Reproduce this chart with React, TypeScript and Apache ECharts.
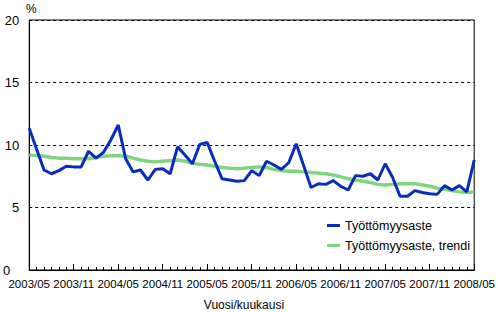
import React, { useEffect, useRef } from "react";
import * as echarts from "echarts";

const startYear = 2003;
const startMonth = 5;
const monthCount = 61;

const rate = [
  11.35, 9.65, 8.0, 7.7, 7.95, 8.3, 8.25, 8.25, 9.5, 8.95,
  9.4, 10.4, 11.6, 8.9, 7.85, 8.0, 7.2, 8.05, 8.1, 7.7,
  9.85, 9.2, 8.5, 10.05, 10.2, 8.7, 7.3, 7.2, 7.1, 7.15,
  7.95, 7.55, 8.7, 8.4, 8.05, 8.6, 10.1, 8.35, 6.6, 6.9,
  6.85, 7.15, 6.7, 6.4, 7.55, 7.5, 7.7, 7.2, 8.5, 7.4,
  5.9, 5.9, 6.35, 6.2, 6.1, 6.05, 6.75, 6.4, 6.75, 6.25,
  8.8,
];

const trend = [
  9.2, 9.15, 9.1, 9.0, 8.95, 8.95, 8.9, 8.9, 8.9, 9.0,
  9.1, 9.15, 9.15, 9.1, 8.95, 8.8, 8.7, 8.65, 8.7, 8.75,
  8.8, 8.7, 8.55, 8.45, 8.4, 8.3, 8.2, 8.15, 8.1, 8.15,
  8.2, 8.25, 8.2, 8.05, 7.95, 7.9, 7.9, 7.85, 7.8, 7.75,
  7.7, 7.6, 7.45, 7.3, 7.2, 7.1, 7.0, 6.85, 6.8, 6.85,
  6.9, 6.9, 6.9, 6.8, 6.7, 6.55, 6.45, 6.35, 6.25, 6.2,
  6.25,
];

const seriesNames = ["Työttömyysaste", "Työttömyysaste, trendi"];
const yTicks = [0, 5, 10, 15, 20];

const months: string[] = [];
for (let i = 0; i < monthCount; i++) {
  const m0 = startMonth - 1 + i;
  const y = startYear + Math.floor(m0 / 12);
  const m = (m0 % 12) + 1;
  months.push(`${y}/${m < 10 ? "0" + m : m}`);
}

export default function App() {
  const ref = useRef<HTMLDivElement>(null);
  useEffect(() => {
    if (!ref.current) return;
    const chart = echarts.init(ref.current, null, { renderer: "svg" });
    const font = "'Liberation Sans', Arial, sans-serif";
    chart.setOption({
      animation: false,
      backgroundColor: "#ffffff",
      textStyle: { fontFamily: font },
      grid: {
        left: 25,
        right: 20,
        top: 20,
        bottom: 42,
        show: true,
        borderColor: "#000",
        borderWidth: 1,
      },
      legend: {
        orient: "vertical",
        left: 322,
        top: 214,
        itemWidth: 13,
        itemHeight: 3,
        itemGap: 7,
        icon: "rect",
        textStyle: { fontFamily: font, fontSize: 12.5, color: "#000" },
        data: seriesNames,
      },
      xAxis: [
        {
          type: "category",
          data: months,
          boundaryGap: false,
          axisLine: { lineStyle: { color: "#000", width: 1 } },
          axisTick: {
            inside: true,
            length: 3,
            interval: 0,
            lineStyle: { color: "#000" },
          },
          axisLabel: {
            interval: 5,
            margin: 8,
            color: "#000",
            fontSize: 11.5,
            fontFamily: font,
          },
          splitLine: { show: false },
        },
        {
          type: "category",
          data: months,
          boundaryGap: false,
          position: "bottom",
          axisLine: { show: false },
          axisTick: {
            inside: true,
            length: 6,
            interval: 5,
            lineStyle: { color: "#000" },
          },
          axisLabel: { show: false },
          splitLine: { show: false },
        },
      ],
      yAxis: {
        type: "value",
        min: yTicks[0],
        max: yTicks[yTicks.length - 1],
        interval: 5,
        axisLine: { show: true, lineStyle: { color: "#000", width: 1 } },
        axisTick: { show: false },
        axisLabel: {
          margin: 10,
          color: "#000",
          fontSize: 13,
          fontFamily: font,
          formatter: (v: number) => (v === 0 ? "{z|0}" : String(v)),
          rich: { z: { fontSize: 13, fontFamily: font, color: "#000", padding: [0, 9, 0, 0] } },
        },
        splitLine: {
          show: true,
          lineStyle: { color: "#000", type: [3, 3], width: 1 },
        },
      },
      graphic: [
        {
          type: "text",
          left: 26,
          top: 3,
          style: { text: "%", font: `12px ${font}`, fill: "#000" },
        },
        {
          type: "text",
          x: 244,
          y: 305,
          style: {
            text: "Vuosi/kuukausi",
            font: `12px ${font}`,
            fill: "#000",
            align: "center",
            verticalAlign: "middle",
          },
        },
      ],
      series: [
        {
          name: seriesNames[1],
          type: "line",
          data: trend,
          showSymbol: false,
          symbol: "none",
          lineStyle: { color: "#7fd47f", width: 3.5 },
          itemStyle: { color: "#7fd47f" },
          z: 2,
        },
        {
          name: seriesNames[0],
          type: "line",
          data: rate,
          showSymbol: false,
          symbol: "none",
          lineStyle: { color: "#0a2cbc", width: 3 },
          itemStyle: { color: "#0a2cbc" },
          z: 3,
        },
      ],
    });
    return () => chart.dispose();
  }, []);
  return (
    <div
      ref={ref}
      style={{ position: "fixed", left: 0, top: 0, width: 498, height: 312 }}
    />
  );
}
